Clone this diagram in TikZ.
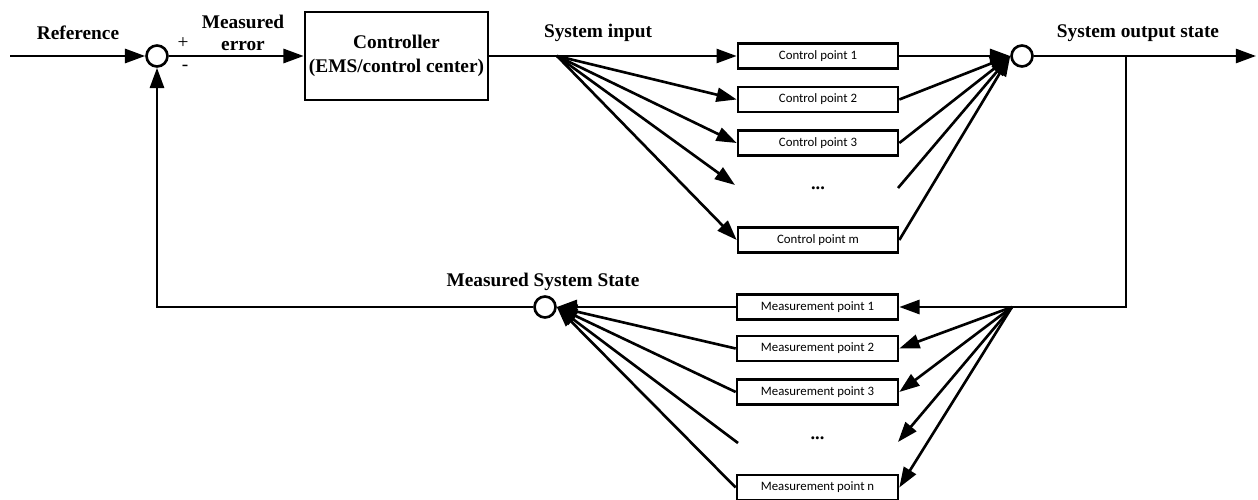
\documentclass[tikz,border=0pt]{standalone}
\usepackage{fontspec}
\setmainfont{Liberation Serif}
\newfontfamily\boxfont{Carlito}
\usetikzlibrary{arrows.meta}
\begin{document}
\begin{tikzpicture}[x=0.02cm,y=-0.02cm,line width=1.5pt,
  arr/.style={-{Triangle[length=11.5pt,width=8pt]}},
  sumnode/.style={circle,draw,inner sep=0pt,minimum size=0.42cm},
  ctrlbox/.style={draw,minimum width=3.66cm,minimum height=1.76cm,inner sep=0pt,align=center,font=\bfseries\fontsize{11}{13.6}\selectfont},
  cpbox/.style={draw,minimum width=3.2cm,minimum height=0.5cm,inner sep=0pt,font=\boxfont\fontsize{7.3}{9}\selectfont},
  dotsnode/.style={inner sep=0pt,font=\bfseries\fontsize{10.5}{11}\selectfont},
  lbl/.style={align=center,inner sep=0pt,font=\bfseries\fontsize{11}{12}\selectfont},
  sgn/.style={inner sep=0pt,font=\fontsize{11}{12}\selectfont}]
\useasboundingbox (0,0) rectangle (1258,500);
% top row
\coordinate (start) at (10,56);
\node[sumnode] (s1) at (157,56) {};
\node[ctrlbox] (ctrl) at (396.5,56) {Controller\\(EMS/control center)};
\coordinate (si) at (557,56);
\node[cpbox] (c1) at (818,56) {Control point 1};
\node[cpbox] (c2) at (818,99.5) {Control point 2};
\node[cpbox] (c3) at (818,143) {Control point 3};
\node[dotsnode] (cd) at (818,188) {...};
\node[cpbox] (cm) at (818,240) {Control point m};
\coordinate (cdl) at (735,185);
\coordinate (cdr) at (898,188);
\node[sumnode] (s2) at (1022,56) {};
\coordinate (out) at (1256,56);
\coordinate (br1) at (1126,56);
% bottom row
\coordinate (mb) at (1012,307);
\node[cpbox,minimum width=3.22cm] (m1) at (817.5,307) {Measurement point 1};
\node[cpbox,minimum width=3.22cm] (m2) at (817.5,348.5) {Measurement point 2};
\node[cpbox,minimum width=3.22cm] (m3) at (817.5,392) {Measurement point 3};
\node[dotsnode] (md) at (817.5,438) {...};
\node[cpbox,minimum width=3.22cm] (mn) at (817.5,487.5) {Measurement point n};
\coordinate (mdl) at (738,443);
\coordinate (mdr) at (898,442);
\node[sumnode] (s3) at (545,307) {};
% labels
\node[lbl] (lref) at (78,33) {Reference};
\node[sgn] (lplus) at (183,43) {+};
\node[sgn] (lminus) at (185,68) {-};
\node[lbl,font=\bfseries\fontsize{11}{12.5}\selectfont] (lerr) at (243,33) {Measured\\error};
\node[lbl] (lsi) at (598,33) {System input};
\node[lbl] (lso) at (1138,33) {System output state};
\node[lbl] (lms) at (543,282) {Measured System State};
% connectors top
\draw[arr] (start) -- (s1);
\draw[arr] (s1) -- (ctrl);
\draw (ctrl) -- (si);
\draw[arr] (si) -- (c1.west);
\draw[arr] (si) -- (c2.west);
\draw[arr] (si) -- (c3.west);
\draw[arr] (si) -- (cdl);
\draw[arr] (si) -- (cm.west);
\draw[arr] (c1.east) -- (s2.west);
\draw[arr] (c2.east) -- (s2.west);
\draw[arr] (c3.east) -- (s2.west);
\draw[arr] (cdr) -- (s2.west);
\draw[arr] (cm.east) -- (s2.west);
\draw[arr] (s2) -- (out);
% connectors bottom
\draw[arr] (br1) |- (m1.east);
\draw[arr] (mb) -- (m2.east);
\draw[arr] (mb) -- (m3.east);
\draw[arr] (mb) -- (mdr);
\draw[arr] (mb) -- (mn.east);
\draw[arr] (m1.west) -- (s3.east);
\draw[arr] (m2.west) -- (s3.east);
\draw[arr] (m3.west) -- (s3.east);
\draw[arr] (mdl) -- (s3.east);
\draw[arr] (mn.west) -- (s3.east);
\draw[arr] (s3.west) -| (s1.south);
\end{tikzpicture}
\end{document}
